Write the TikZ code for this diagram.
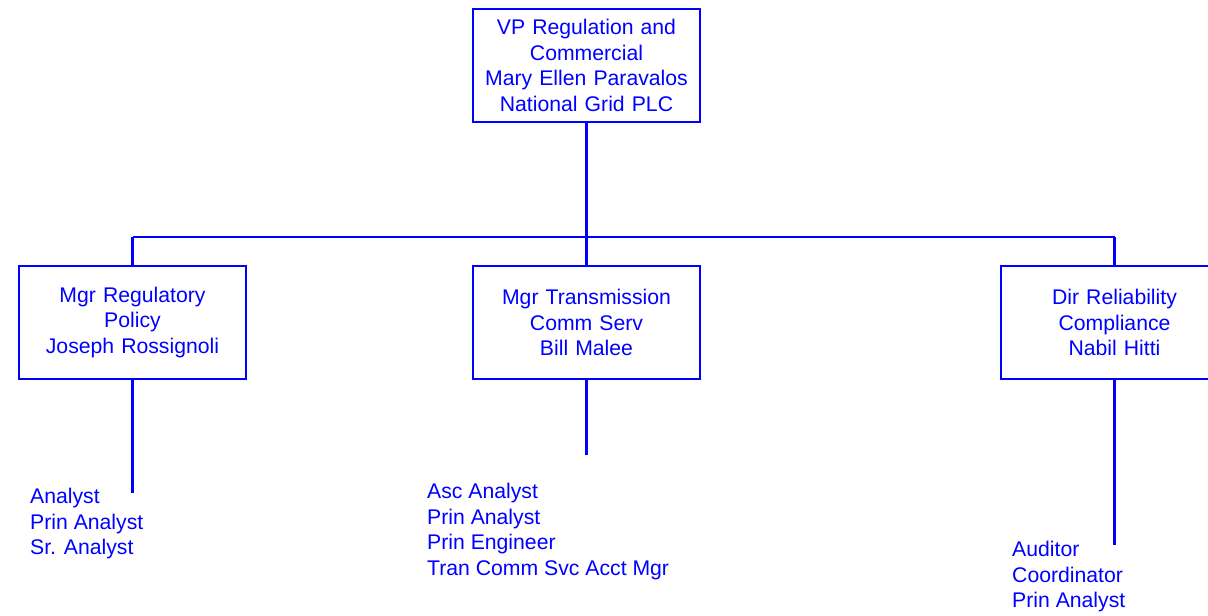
\documentclass[tikz,border=0pt]{standalone}
\usepackage{fontspec}
\setmainfont{Liberation Sans}
\definecolor{orgblue}{RGB}{0,0,255}
\tikzset{
  orgbox/.style={draw=orgblue, line width=2.2pt, minimum width=227pt, minimum height=113pt,
    inner sep=0pt, text width=220pt, align=center, text=orgblue,
    font=\fontsize{21.2}{25.5}\selectfont},
  orglist/.style={anchor=west, inner sep=0pt, align=left, text=orgblue,
    font=\fontsize{21.2}{25.5}\selectfont},
  orgline/.style={draw=orgblue, line width=2.2pt}
}
\begin{document}
\begin{tikzpicture}[x=1pt,y=-1pt]
\useasboundingbox (0,0) rectangle (1208,616);
\clip (0,0) rectangle (1208,616);
\node[orgbox] (vp) at (586.5,65.5) {VP Regulation and\\Commercial\\Mary Ellen Paravalos\\National Grid PLC};
\node[orgbox] (reg) at (132.5,322.5) {Mgr Regulatory\\Policy\\Joseph Rossignoli};
\node[orgbox] (trn) at (586.5,322.5) {Mgr Transmission\\Comm Serv\\Bill Malee};
\node[orgbox] (rel) at (1114.5,322.5) {Dir Reliability\\Compliance\\Nabil Hitti};
\coordinate (busc) at (586.5,237);
\coordinate (busl) at (132.5,237);
\coordinate (busr) at (1114.5,237);
\draw[orgline] (vp.south) -- (busc);
\draw[orgline] (busl) -- (busr);
\draw[orgline] (busl) -- (reg.north);
\draw[orgline] (busc) -- (trn.north);
\draw[orgline] (busr) -- (rel.north);
\node[orglist] (regl) at (30,524) {Analyst\\Prin Analyst\\Sr. Analyst};
\node[orglist] (trnl) at (427,531.5) {Asc Analyst\\Prin Analyst\\Prin Engineer\\Tran Comm Svc Acct Mgr};
\node[orglist] (rell) at (1012,577) {Auditor\\Coordinator\\Prin Analyst};
\coordinate (regend) at (132.5,493);
\coordinate (trnend) at (586.5,455);
\coordinate (relend) at (1114.5,545);
\draw[orgline] (reg.south) -- (regend);
\draw[orgline] (trn.south) -- (trnend);
\draw[orgline] (rel.south) -- (relend);
\end{tikzpicture}
\end{document}
